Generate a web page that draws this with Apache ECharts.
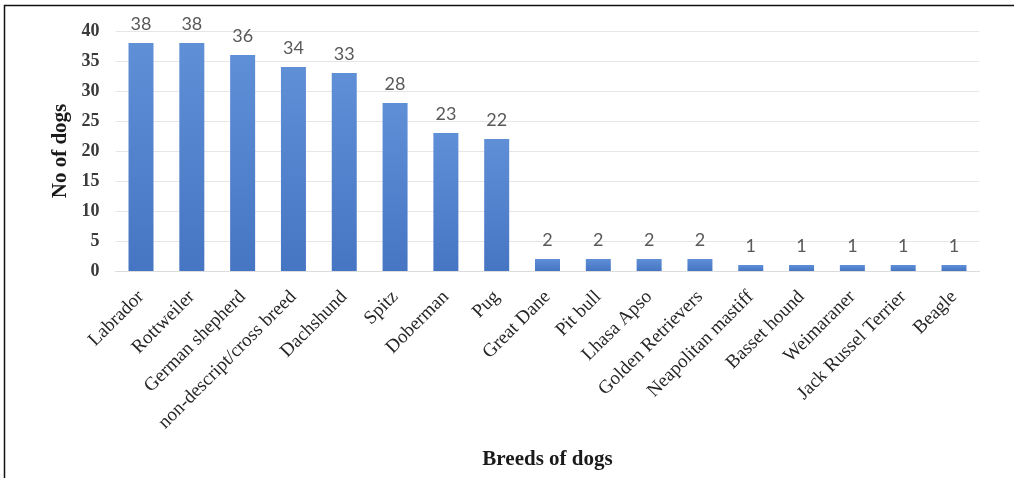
<!DOCTYPE html>
<html>
<head>
<meta charset="utf-8">
<script src="https://cdn.jsdelivr.net/npm/echarts@6/dist/echarts.min.js"></script>
<style>
  html, body { margin: 0; padding: 0; background: #fff; }
  #chart { width: 1014px; height: 478px; }
</style>
</head>
<body>
<div id="chart"></div>
<script>
// breeds and counts
const breeds = [
  'Labrador', 'Rottweiler', 'German shepherd', 'non-descript/cross breed', 'Dachshund',
  'Spitz', 'Doberman', 'Pug', 'Great Dane', 'Pit bull', 'Lhasa Apso', 'Golden Retrievers',
  'Neapolitan mastiff', 'Basset hound', 'Weimaraner', 'Jack Russel Terrier', 'Beagle'
]
const dogCounts = [38, 38, 36, 34, 33, 28, 23, 22, 2, 2, 2, 2, 1, 1, 1, 1, 1]
const yTicks = [0, 5, 10, 15, 20, 25, 30, 35, 40]

const chart = echarts.init(document.getElementById('chart'))

const option = {
  animation: false,
  // black frame round the figure
  graphic: [
    {
      type: 'rect',
      shape: { x: 4.5, y: 5.5, width: 1030, height: 490 },
      style: { fill: 'none', stroke: '#111', lineWidth: 1.5 },
      silent: true
    }
  ],
  grid: {
    left: 115.6,
    right: 34.6,
    top: 31,
    bottom: 207,
    outerBoundsMode: 'none',
    containLabel: false
  },
  xAxis: {
    type: 'category',
    data: breeds,
    name: 'Breeds of dogs',
    nameLocation: 'middle',
    nameGap: 178,
    nameTextStyle: {
      fontFamily: 'Liberation Serif',
      fontWeight: 'bold',
      fontSize: 21,
      color: '#1a1a1a'
    },
    axisLine: { lineStyle: { color: '#dcdcdc' } },
    axisTick: { show: false },
    axisLabel: {
      interval: 0,
      rotate: 45,
      margin: 23,
      fontFamily: 'Liberation Serif',
      fontSize: 19,
      color: '#262626'
    }
  },
  yAxis: {
    type: 'value',
    min: yTicks[0],
    max: yTicks[yTicks.length - 1],
    interval: 5,
    name: 'No of dogs',
    nameLocation: 'middle',
    nameGap: 44,
    nameTextStyle: {
      fontFamily: 'Liberation Serif',
      fontWeight: 'bold',
      fontSize: 21,
      color: '#1a1a1a'
    },
    axisLabel: {
      margin: 16,
      fontFamily: 'Liberation Serif',
      fontWeight: 'bold',
      fontSize: 18,
      color: '#3a3a3a'
    },
    splitLine: { lineStyle: { color: '#e6e6e6' } }
  },
  series: [
    {
      type: 'bar',
      data: dogCounts,
      barWidth: 25,
      itemStyle: {
        color: new echarts.graphic.LinearGradient(0, 0, 0, 1, [
          { offset: 0, color: '#5f8fd6' },
          { offset: 1, color: '#4676c3' }
        ])
      },
      label: {
        show: true,
        position: 'top',
        distance: 10,
        fontFamily: 'Lato',
        fontSize: 18,
        color: '#595959'
      }
    }
  ]
}

chart.setOption(option)
</script>
</body>
</html>
